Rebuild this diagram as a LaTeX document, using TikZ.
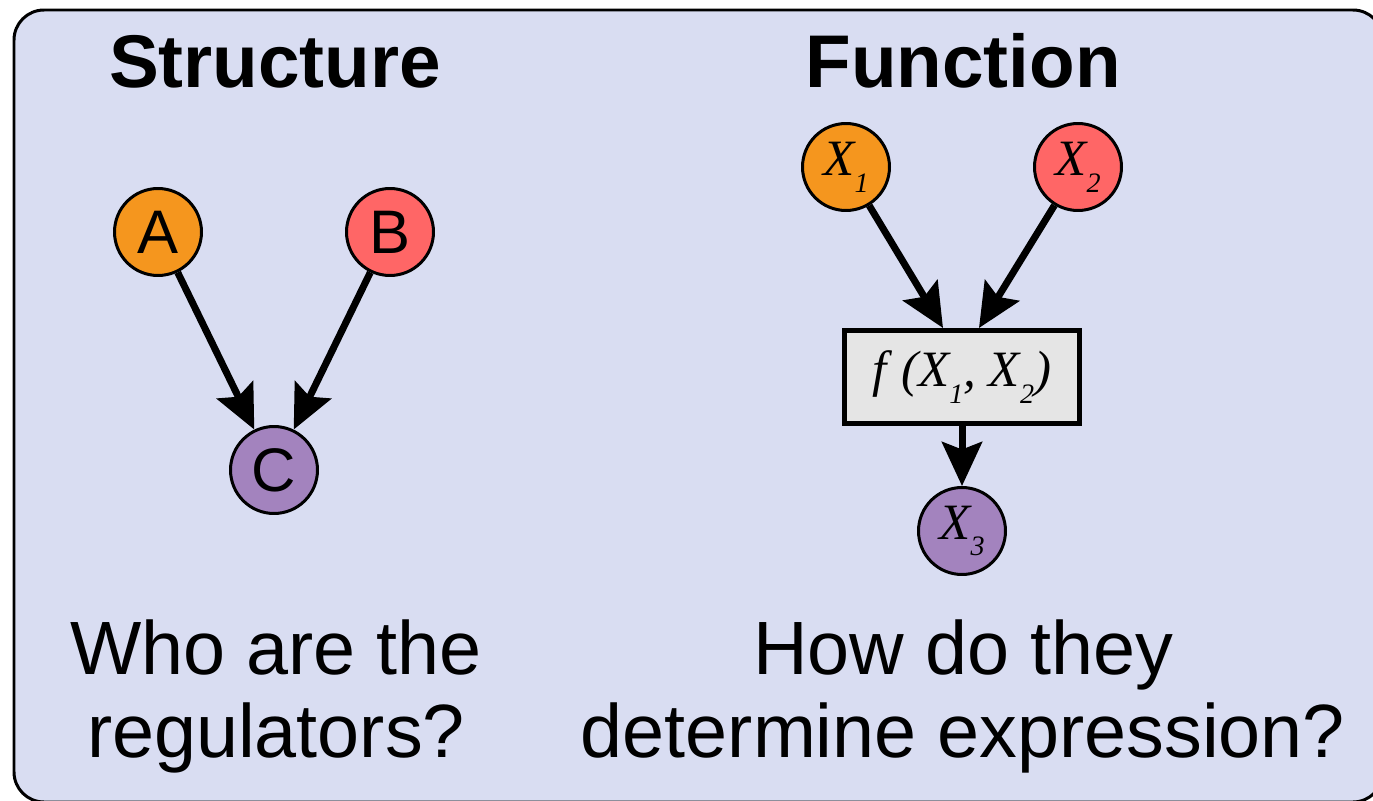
\documentclass[tikz,border=0pt]{standalone}
\usepackage{fontspec}
\setmainfont{Liberation Sans}
\newfontfamily\varfont{Liberation Serif}
\usetikzlibrary{arrows.meta}
\definecolor{panelbg}{HTML}{D9DDF2}
\definecolor{geneorange}{HTML}{F5961E}
\definecolor{genered}{HTML}{FF6666}
\definecolor{genepurple}{HTML}{A383BE}
\newcommand{\xsub}[2]{{\varfont\itshape #1\raisebox{-0.33em}{\fontsize{16}{16}\selectfont #2}}}

\begin{document}
\begin{tikzpicture}[
    x=0.02cm, y=-0.02cm,
    gene/.style={
        circle,
        minimum size=1.74cm,
        inner sep=0pt,
        draw=black,
        line width=0.06cm,
        font=\fontsize{35}{35}\selectfont
    },
    var/.style={gene, font=\fontsize{29}{29}\selectfont},
    fnbox/.style={
        rectangle,
        minimum width=4.72cm,
        minimum height=1.86cm,
        draw=black,
        line width=0.1cm,
        fill=black!10,
        font=\fontsize{29}{29}\selectfont
    },
    title/.style={font=\fontsize{42.5}{42.5}\selectfont\bfseries, anchor=base},
    question/.style={font=\fontsize{43}{47}\selectfont, align=center, anchor=north},
    link/.style={-{Stealth[length=0.88cm, width=0.8cm, inset=0.15cm]}, line width=0.14cm}
]
\useasboundingbox (0,0) rectangle (1373,801);
\draw[fill=panelbg, line width=0.06cm, rounded corners=0.6cm] (14,10) rectangle (1383,802);

% structure
\node[title] (structure) at (275,87) {Structure};
\node[gene, fill=geneorange] (A) at (158,232) {A};
\node[gene, fill=genered] (B) at (390,232) {B};
\node[gene, fill=genepurple] (C) at (274,470) {C};
\draw[link] (A) -- (C);
\draw[link] (B) -- (C);
\node[question] (who) at (276,614) {Who are the\\regulators?};

% function
\node[title] (function) at (963,87) {Function};
\node[var, fill=geneorange] (X1) at (846,167) {\xsub{X}{1}};
\node[var, fill=genered] (X2) at (1078,167) {\xsub{X}{2}};
\node[fnbox] (f) at (962,377) {{\varfont\itshape f\;(}\xsub{X}{1}{\varfont\itshape, }\xsub{X}{2}{\varfont\itshape )}};
\node[var, fill=genepurple] (X3) at (962,531) {\xsub{X}{3}};
\draw[link] (X1) -- ([xshift=-0.38cm]f.north);
\draw[link] (X2) -- ([xshift=0.34cm]f.north);
\draw[link] (f) -- (X3);
\node[question] (how) at (963,614) {How do they\\determine expression?};

\end{tikzpicture}
\end{document}
